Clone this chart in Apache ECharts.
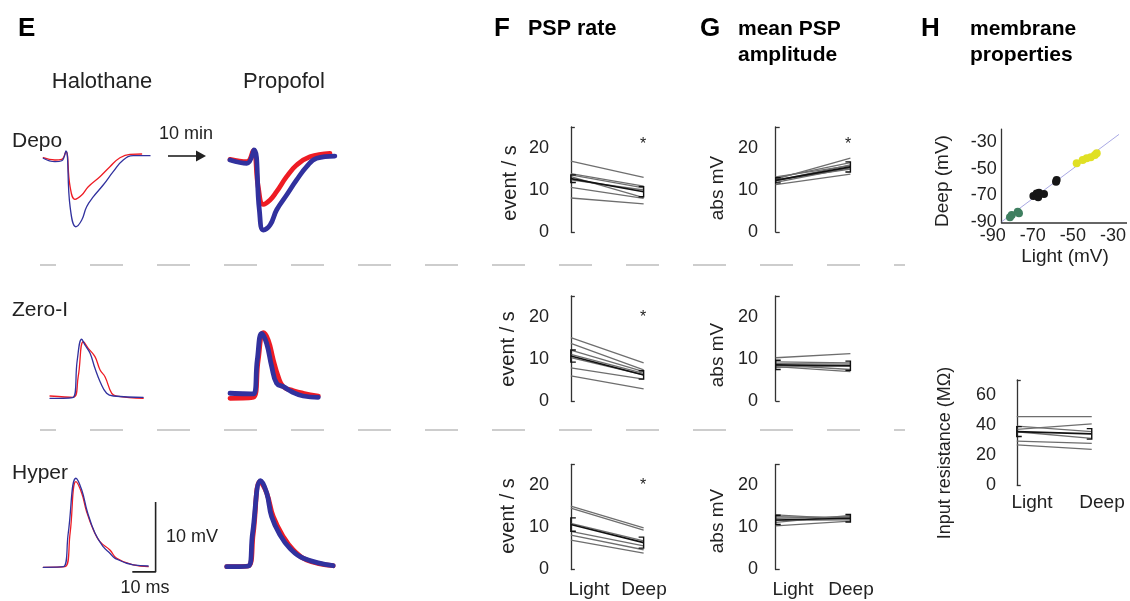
<!DOCTYPE html>
<html>
<head>
<meta charset="utf-8">
<script src="https://cdn.jsdelivr.net/npm/echarts@6.0.0/dist/echarts.min.js"></script>
<style>
html,body{margin:0;padding:0;background:#fff;}
#chart{width:1130px;height:601px;}
</style>
</head>
<body>
<div id="chart"></div>
<script>
// ---------------- DATA ----------------
// Panel E traces: [time (ms), membrane potential relative to baseline (mV)]
const depoHaloRed  = [[0,-0.53],[5.0,-0.86],[7.9,-0.76],[9.7,0.33],[11.5,-4.67],[13.6,-6.47],[16.5,-5.86],[19.3,-4.67],[24.3,-3.24],[28.6,-1.81],[32.9,-0.53],[37.2,-0.04],[42.2,0]];
const depoHaloBlue = [[0,-0.61],[5.0,-1.10],[7.9,-0.96],[9.7,0.43],[11.5,-7.53],[14.0,-10.39],[16.5,-9.43],[18.6,-7.53],[21.5,-6.10],[25.7,-4.43],[30.0,-2.53],[34.3,-0.86],[38.6,-0.24],[45.8,-0.24]];
const depoPropRed  = [[0,-0.76],[7.2,-1.10],[10.0,0.47],[12.1,-4.67],[14.3,-7.19],[17.2,-6.57],[20.0,-5.39],[24.3,-3.24],[28.6,-1.57],[34.3,-0.39],[42.9,0.1]];
const depoPropBlue = [[0,-0.86],[7.2,-1.33],[10.3,0.57],[12.6,-8.0],[14.3,-10.86],[17.2,-10.14],[20.0,-8.0],[24.3,-5.86],[28.6,-3.71],[32.9,-1.81],[37.2,-0.61],[45.0,-0.29]];
const zeroHaloRed  = [[0,0.14],[10.0,-0.04],[12.1,2.90],[14.3,7.90],[16.4,6.96],[19.3,5.76],[21.5,3.86],[23.6,2.90],[26.5,0.53],[28.6,0.14],[40.0,-0.19]];
const zeroHaloBlue = [[0,-0.19],[10.0,-0.04],[11.7,5.29],[13.6,8.25],[15.0,7.43],[17.2,6.24],[19.3,4.10],[21.5,2.19],[24.3,0.53],[27.2,0.14],[40.0,-0.04]];
const zeroPropRed  = [[0,-0.33],[10.0,-0.19],[12.1,5.14],[14.3,9.04],[16.4,8.0],[18.6,5.14],[20.7,2.76],[22.9,1.33],[27.2,0.76],[31.4,0.39],[37.9,0]];
const zeroPropBlue = [[0,0.39],[10.0,0.29],[11.7,5.14],[13.6,8.96],[15.7,7.53],[17.9,4.19],[20.0,1.81],[22.9,1.33],[26.5,0.61],[31.4,0],[37.9,-0.19]];
const hyperHaloRed  = [[0,-0.04],[9.3,0.04],[11.5,4.82],[14.0,12.19],[16.5,10.53],[18.6,7.90],[21.5,5.29],[24.3,3.62],[28.6,2.43],[31.5,1.24],[38.6,0.29],[45.0,0.04]];
const hyperHaloBlue = [[0,-0.04],[8.6,0.04],[10.7,4.82],[14.0,12.68],[16.5,11.0],[18.9,7.90],[22.2,4.82],[25.7,2.90],[28.6,1.96],[30.8,1.24],[38.6,0.29],[45.0,0.14]];
const hyperPropRed  = [[0,-0.1],[9.3,0],[11.4,4.67],[14.3,12.04],[17.2,10.39],[20.0,7.04],[24.3,4.19],[28.6,2.29],[34.3,0.86],[45.7,0.04]];
const hyperPropBlue = [[0,-0.1],[9.3,0],[11.1,4.67],[14.6,12.19],[17.2,10.39],[19.3,7.04],[22.9,4.43],[27.1,2.53],[32.9,1.10],[45.7,0.04]];
// scale bar (10 ms, 10 mV), corner position in the Hyper/Halothane trace frame
const scaleBarMs = 10, scaleBarMv = 10;
const scaleBarCorner = [48.2, -0.7];

// Panel F: PSP rate (event / s), Light vs Deep
const rateDepoLight  = [16.9, 13.9, 13.6, 13.2, 12.4, 10.6, 8.1];
const rateDepoDeep   = [13.0, 10.9, 10.5, 8.2, 10.0, 8.0, 6.7];
const rateDepoMean   = [12.7, 9.6],  rateDepoErr  = [0.9, 1.2];
const rateZeroLight  = [15.1, 13.7, 12.1, 11.1, 10.3, 7.9, 6.0];
const rateZeroDeep   = [9.1, 7.4, 7.0, 6.6, 6.2, 5.2, 2.9];
const rateZeroMean   = [10.7, 6.2],  rateZeroErr  = [1.45, 1.0];
const rateHyperLight = [15.1, 14.6, 11.0, 9.1, 8.2, 7.0];
const rateHyperDeep  = [9.9, 9.4, 6.8, 5.6, 4.7, 3.9];
const rateHyperMean  = [10.7, 6.4],  rateHyperErr = [1.6, 1.3];

// Panel G: mean PSP amplitude (abs mV)
const ampDepoLight  = [12.6, 12.9, 12.2, 11.8, 12.4, 13.1, 11.3];
const ampDepoDeep   = [17.6, 16.5, 16.0, 15.3, 15.0, 15.8, 13.8];
const ampDepoMean   = [12.3, 15.5], ampDepoErr  = [0.6, 1.2];
const ampZeroLight  = [10.3, 9.3, 8.9, 8.6, 8.4, 8.2, 8.0];
const ampZeroDeep   = [11.3, 9.1, 8.8, 7.5, 8.3, 7.0, 8.5];
const ampZeroMean   = [8.6, 8.4],   ampZeroErr  = [1.1, 1.1];
const ampHyperLight = [13.0, 12.6, 12.2, 11.7, 11.2, 10.4];
const ampHyperDeep  = [12.0, 12.3, 12.6, 11.8, 12.9, 11.5];
const ampHyperMean  = [11.8, 12.2], ampHyperErr = [1.1, 0.9];

// Panel H: membrane potential Light vs Deep (mV)
const vmGreen  = [[-80.5,-84.9],[-81.4,-86.7],[-77.5,-82.4],[-76.9,-83.7]];
const vmBlack  = [[-69.7,-70.6],[-68.1,-68.6],[-67.3,-71.6],[-66.9,-68.1],[-64.4,-69.1],[-58.4,-59.8],[-58.1,-58.5]];
const vmYellow = [[-48.1,-45.9],[-45.1,-43.4],[-43.1,-42.1],[-41.1,-41.3],[-39.0,-39.6],[-38.1,-38.3]];
const vmGuide  = [[-85.5,-90],[-27,-24]];
const vmTicks  = [-90, -70, -50, -30];
// Panel H: input resistance (MOhm)
const resLight = [45.6, 39.3, 37.1, 35.5, 29.3, 26.7];
const resDeep  = [45.6, 35.6, 40.7, 31.1, 27.8, 23.8];
const resMean  = [35.6, 34.1], resErr = [3.3, 3.5];

const pairCategories = ['Light', 'Deep'];
const rateTicks = [0, 10, 20];
const resTicks = [0, 20, 40, 60];

// ---------------- BUILD ----------------
const FONT = "'Liberation Sans', Arial, Helvetica, sans-serif";
const RED = '#ee1c24', BLUE = '#31319e', INK = '#222', AX = '#333';
const grids = [], xAxes = [], yAxes = [], series = [];

function addGrid(g, xa, ya) {
  const i = grids.length;
  grids.push(g);
  xAxes.push(Object.assign({gridIndex: i, type: 'value'}, xa));
  yAxes.push(Object.assign({gridIndex: i, type: 'value'}, ya));
  return i;
}
function traceGrid(left, top, ymin, ymax) {
  const h = (ymax - ymin) * 7;
  return addGrid({left: left, top: top, width: 116.5, height: h},
    {min: 0, max: 50, show: false},
    {min: ymin, max: ymax, show: false});
}
function addTrace(gi, data, color, width, z) {
  series.push({type: 'line', xAxisIndex: gi, yAxisIndex: gi, data: data, showSymbol: false,
    smooth: 0.45, lineStyle: {color: color, width: width, cap: 'round', join: 'round'},
    z: z, silent: true});
}
// Depo
let g = traceGrid(43.3, 140, -12, 2);
addTrace(g, depoHaloRed, RED, 1.3, 2); addTrace(g, depoHaloBlue, BLUE, 1.3, 3);
g = traceGrid(230, 140, -12, 2);
addTrace(g, depoPropRed, RED, 4.8, 2); addTrace(g, depoPropBlue, BLUE, 4.8, 3);
// Zero-I
g = traceGrid(50, 313, -2, 12);
addTrace(g, zeroHaloRed, RED, 1.3, 2); addTrace(g, zeroHaloBlue, BLUE, 1.3, 3);
g = traceGrid(230, 312, -2, 12);
addTrace(g, zeroPropRed, RED, 4.8, 2); addTrace(g, zeroPropBlue, BLUE, 4.8, 3);
// Hyper
g = traceGrid(43.3, 469, -2, 14);
addTrace(g, hyperHaloRed, RED, 1.3, 2); addTrace(g, hyperHaloBlue, BLUE, 1.3, 3);
series.push({type: 'line', xAxisIndex: g, yAxisIndex: g, showSymbol: false, silent: true,
  data: [[scaleBarCorner[0] - scaleBarMs, scaleBarCorner[1]], scaleBarCorner, [scaleBarCorner[0], scaleBarCorner[1] + scaleBarMv]],
  lineStyle: {color: INK, width: 1.6}, z: 4});
g = traceGrid(226.7, 468, -2, 14);
addTrace(g, hyperPropRed, RED, 4.8, 2); addTrace(g, hyperPropBlue, BLUE, 4.8, 3);

// paired Light/Deep panels
function pairPanel(left, top, xmin, pxPerUnit, height, ymax, labels, light, deep, mean, err, margin) {
  const gi = addGrid({left: left, top: top, width: (1.2 - xmin) * pxPerUnit, height: height},
    {min: xmin, max: 1.2, show: false},
    {min: 0, max: ymax,
     axisLine: {show: true, lineStyle: {color: AX, width: 1.3}},
     axisTick: {show: true, inside: true, length: 4, customValues: [0, ymax], lineStyle: {color: AX, width: 1.3}},
     axisLabel: {show: true, customValues: labels, margin: margin, fontSize: 18, color: INK, fontFamily: FONT},
     splitLine: {show: false}});
  for (let i = 0; i < light.length; i++) {
    series.push({type: 'line', xAxisIndex: gi, yAxisIndex: gi, showSymbol: false, silent: true,
      data: [[0, light[i]], [1, deep[i]]], lineStyle: {color: '#6e6e6e', width: 1.3}, z: 2});
  }
  series.push({type: 'line', xAxisIndex: gi, yAxisIndex: gi, showSymbol: false, silent: true,
    data: [[0, mean[0]], [1, mean[1]]], lineStyle: {color: '#111', width: 1.6}, z: 4});
  series.push({type: 'custom', xAxisIndex: gi, yAxisIndex: gi, silent: true, z: 5,
    data: [[0, mean[0], err[0], 1], [1, mean[1], err[1], -1]],
    renderItem: function (params, api) {
      const x = api.value(0), m = api.value(1), e = api.value(2), d = api.value(3);
      const hi = api.coord([x, m + e]), lo = api.coord([x, m - e]);
      const c = 5 * d;
      return {type: 'polyline', shape: {points: [[hi[0] + c, hi[1]], [hi[0], hi[1]], [lo[0], lo[1]], [lo[0] + c, lo[1]]]},
        style: {stroke: '#111', lineWidth: 1.4, fill: null}};
    }});
}
// F
pairPanel(557, 127, -0.19, 72.8, 105, 25, rateTicks, rateDepoLight, rateDepoDeep, rateDepoMean, rateDepoErr, 8);
pairPanel(557, 296, -0.19, 72.8, 105, 25, rateTicks, rateZeroLight, rateZeroDeep, rateZeroMean, rateZeroErr, 8);
pairPanel(557, 464.5, -0.19, 72.8, 105, 25, rateTicks, rateHyperLight, rateHyperDeep, rateHyperMean, rateHyperErr, 8);
// G
pairPanel(766, 127, -0.13, 74.7, 105, 25, rateTicks, ampDepoLight, ampDepoDeep, ampDepoMean, ampDepoErr, 8);
pairPanel(766, 296, -0.13, 74.7, 105, 25, rateTicks, ampZeroLight, ampZeroDeep, ampZeroMean, ampZeroErr, 8);
pairPanel(766, 464.5, -0.13, 74.7, 105, 25, rateTicks, ampHyperLight, ampHyperDeep, ampHyperMean, ampHyperErr, 8);
// H input resistance
pairPanel(1001, 380, -0.21, 75, 105, 70, resTicks, resLight, resDeep, resMean, resErr, 5);

// H scatter
g = addGrid({left: 992.7, top: 129.1, width: 134.3, height: 93.9},
  {min: -90, max: -23, axisLine: {show: false}, axisTick: {show: false},
   axisLabel: {customValues: vmTicks, fontSize: 18, color: INK, fontFamily: FONT, margin: 4}, splitLine: {show: false}},
  {min: -91, max: -20, offset: -9, axisLine: {show: true, onZero: false, lineStyle: {color: AX, width: 1.3}}, axisTick: {show: false},
   axisLabel: {customValues: vmTicks, fontSize: 18, color: INK, fontFamily: FONT, margin: 5}, splitLine: {show: false}});
series.push({type: 'line', xAxisIndex: g, yAxisIndex: g, data: vmGuide, showSymbol: false, silent: true,
  lineStyle: {color: '#a9a9e4', width: 1}, z: 1});
[[vmGreen, '#3f7f60'], [vmBlack, '#161616'], [vmYellow, '#e0e024']].forEach(function (s) {
  series.push({type: 'scatter', xAxisIndex: g, yAxisIndex: g, data: s[0], symbolSize: 8, silent: true,
    itemStyle: {color: s[1], opacity: 1}, z: 3});
});

// ---------------- TEXT / DECORATION ----------------
function txt(x, y, s, size, opts) {
  return Object.assign({type: 'text', x: x, y: y, silent: true,
    style: Object.assign({text: s, fontSize: size, fontFamily: FONT, fill: INK, textAlign: 'left', textVerticalAlign: 'middle'}, (opts && opts.style) || {})},
    (opts && opts.el) || {});
}
const C = {style: {textAlign: 'center'}};
const B = function (a) { return {style: Object.assign({fontWeight: 'bold', fill: '#000'}, a || {})}; };
const R = {el: {rotation: Math.PI / 2}, style: {textAlign: 'center'}};
const elements = [
  txt(18, 29, 'E', 26, B()),
  txt(494, 29, 'F', 26, B()), txt(528, 29, 'PSP rate', 21.5, B()),
  txt(700, 29, 'G', 26, B()), txt(738, 29, 'mean PSP', 21, B()), txt(738, 55, 'amplitude', 21, B()),
  txt(921, 29, 'H', 26, B()), txt(970, 29, 'membrane', 21, B()), txt(970, 55, 'properties', 21, B()),
  txt(102, 82, 'Halothane', 22, C), txt(284, 82, 'Propofol', 22, C),
  txt(12, 141, 'Depo', 21), txt(12, 310, 'Zero-I', 21), txt(12, 473, 'Hyper', 21),
  txt(186, 134, '10 min', 18, C),
  // scatter x-axis line starts at the y axis
  {type: 'line', silent: true, shape: {x1: 1001.7, y1: 223, x2: 1127, y2: 223}, style: {stroke: AX, lineWidth: 1.3}},
  {type: 'line', silent: true, shape: {x1: 168, y1: 156, x2: 197, y2: 156}, style: {stroke: INK, lineWidth: 1.6}},
  {type: 'polygon', silent: true, shape: {points: [[196, 150.5], [206, 156], [196, 161.5]]}, style: {fill: INK}},
  txt(166, 537, '10 mV', 18), txt(145, 588, '10 ms', 18, C),
  txt(510, 183, 'event / s', 20, R), txt(508, 349, 'event / s', 20, R), txt(508, 516, 'event / s', 20, R),
  txt(718, 188, 'abs mV', 19, R), txt(718, 355, 'abs mV', 19, R), txt(718, 521, 'abs mV', 19, R),
  txt(943, 181, 'Deep (mV)', 19, R), txt(945, 453, 'Input resistance (MΩ)', 18, R),
  txt(1065, 257, 'Light (mV)', 19, C),
  txt(589, 590, pairCategories[0], 19, C), txt(644, 590, pairCategories[1], 19, C),
  txt(793, 590, pairCategories[0], 19, C), txt(851, 590, pairCategories[1], 19, C),
  txt(1032, 503, pairCategories[0], 19, C), txt(1102, 503, pairCategories[1], 19, C),
  txt(643, 145, '*', 16, C), txt(643, 318, '*', 16, C), txt(643, 486, '*', 16, C), txt(848, 145, '*', 16, C)
];
[265, 430].forEach(function (y) {
  elements.push({type: 'line', silent: true, shape: {x1: 40, y1: y, x2: 905, y2: y},
    style: {stroke: '#bdbdbd', lineWidth: 1.5, lineDash: [33, 34], lineDashOffset: 17}});
});

const chart = echarts.init(document.getElementById('chart'), null, {renderer: 'canvas'});
chart.setOption({
  animation: false,
  backgroundColor: '#fff',
  textStyle: {fontFamily: FONT},
  grid: grids, xAxis: xAxes, yAxis: yAxes, series: series,
  graphic: {elements: elements}
});
</script>
</body>
</html>
